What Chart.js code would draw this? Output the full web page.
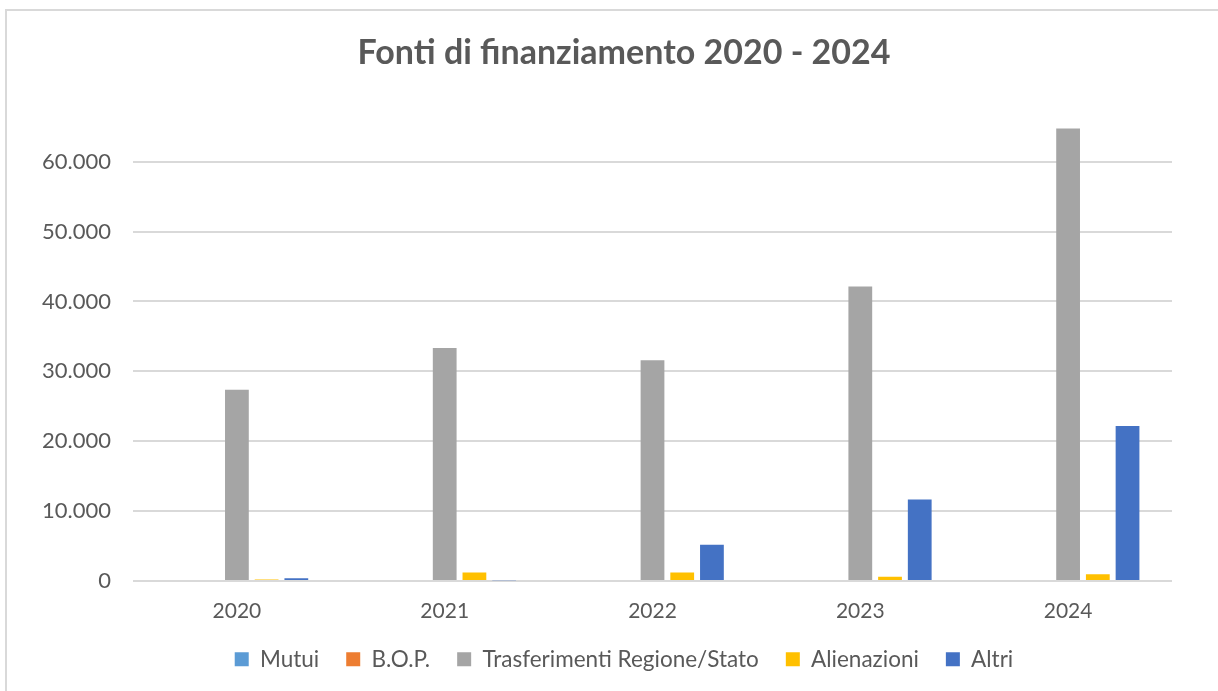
<!DOCTYPE html>
<html>
<head>
<meta charset="utf-8">
<script src="https://cdn.jsdelivr.net/npm/chart.js@4"></script>
<style>
  html, body { margin: 0; padding: 0; background: #fff; overflow: hidden; }
  #frame { position: absolute; left: 5px; top: 9px; width: 1300px; height: 800px; border: 2px solid #d9d9d9; box-sizing: border-box; }
  #wrap { position: absolute; left: 0; top: 0; width: 1248px; height: 691px; }
</style>
</head>
<body>
<div id="frame"></div>
<div id="wrap"><canvas id="fonti-chart" width="1248" height="691"></canvas></div>
<script>
const anni = ['2020', '2021', '2022', '2023', '2024'];
const mutui = [0, 0, 0, 0, 0];
const bop = [0, 0, 0, 0, 0];
const trasferimenti = [27350, 33330, 31570, 42140, 64750];
const alienazioni = [200, 1200, 1200, 600, 950];
const altri = [400, 100, 5190, 11670, 22190];

const grigio = '#595959';

function formatta(v) {
    return String(v).replace(/\B(?=(\d{3})+(?!\d))/g, '.');
}

const ctx = document.getElementById('fonti-chart');
new Chart(ctx, {
    type: 'bar',
    data: {
        labels: anni,
        datasets: [
            { label: 'Mutui', data: mutui, backgroundColor: '#5B9BD5' },
            { label: 'B.O.P.', data: bop, backgroundColor: '#ED7D31' },
            { label: 'Trasferimenti Regione/Stato', data: trasferimenti, backgroundColor: '#A5A5A5' },
            { label: 'Alienazioni', data: alienazioni, backgroundColor: '#FFC000' },
            { label: 'Altri', data: altri, backgroundColor: '#4472C4' }
        ]
    },
    options: {
        responsive: false,
        animation: false,
        devicePixelRatio: 1,
        categoryPercentage: 0.715,
        barPercentage: 0.8,
        layout: { padding: { left: 0, right: 0, top: 0, bottom: 10.5 } },
        plugins: {
            title: {
                display: true,
                text: 'Fonti di finanziamento 2020 - 2024',
                color: grigio,
                font: { family: 'Lato', size: 34, weight: 'bold', lineHeight: 1.2 },
                padding: { top: 33, bottom: 18 }
            },
            legend: {
                position: 'bottom',
                labels: {
                    color: grigio,
                    font: { family: 'Lato', size: 22.5 },
                    boxWidth: 14,
                    boxHeight: 14,
                    padding: 27
                }
            },
            tooltip: { enabled: false }
        },
        scales: {
            x: {
                grid: { display: false, drawTicks: false },
                border: { display: false },
                ticks: { color: grigio, font: { family: 'Lato', size: 21 }, padding: 18 },
                afterFit: s => { s.height = 40; }
            },
            y: {
                min: 0,
                max: 70000,
                ticks: {
                    stepSize: 10000,
                    color: grigio,
                    font: { family: 'Lato', size: 22 },
                    padding: 22,
                    callback: v => v === 70000 ? '' : formatta(v)
                },
                grid: {
                    drawTicks: false,
                    lineWidth: 2,
                    color: c => c.tick && c.tick.value === 70000 ? 'rgba(0,0,0,0)' : '#d9d9d9'
                },
                border: { display: false },
                afterFit: s => { s.width = 133; }
            },
            margine: {
                position: 'right',
                min: 0,
                max: 70000,
                grid: { display: false, drawTicks: false },
                border: { display: false },
                ticks: { display: false },
                afterFit: s => { s.width = 76; }
            }
        }
    }
});
</script>
</body>
</html>
